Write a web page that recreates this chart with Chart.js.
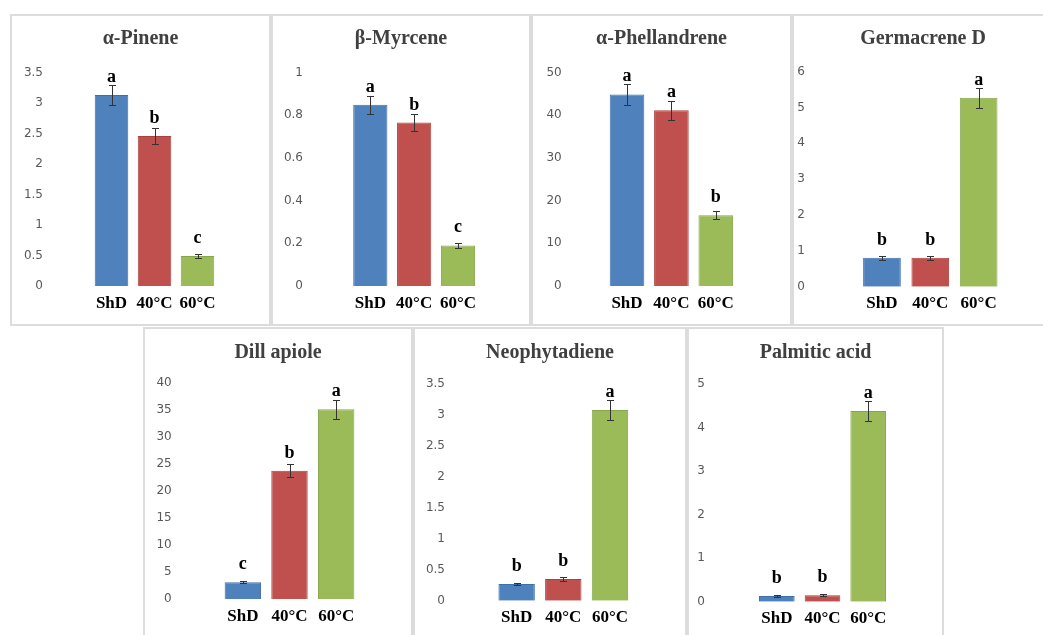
<!DOCTYPE html>
<html>
<head>
<meta charset="utf-8">
<script src="https://cdn.jsdelivr.net/npm/chart.js@4.4.1/dist/chart.umd.min.js"></script>
<style>
  html, body { margin: 0; padding: 0; background: #fff; }
  body { width: 1043px; height: 635px; position: relative; overflow: hidden; }
  .panel { position: absolute; box-sizing: border-box; border: 2px solid #dcdcdc; }
  canvas { position: absolute; }
</style>
</head>
<body>
<script>
// compounds and treatments
const compounds = ['α-Pinene', 'β-Myrcene', 'α-Phellandrene', 'Germacrene D', 'Dill apiole', 'Neophytadiene', 'Palmitic acid']
const treatments = ['ShD', '40°C', '60°C']

// means per treatment, one entry per compound
const shdMeans = [3.13, 0.85, 44.9, 0.81, 3.15, 0.27, 0.13]
const means40 = [2.46, 0.766, 41.2, 0.81, 23.8, 0.35, 0.15]
const means60 = [0.49, 0.19, 16.6, 5.27, 35.2, 3.085, 4.38]

// error bars
const shdErr = [0.16, 0.043, 2.4, 0.06, 0.15, 0.02, 0.02]
const err40 = [0.13, 0.04, 2.2, 0.06, 1.2, 0.03, 0.02]
const err60 = [0.03, 0.01, 0.9, 0.28, 1.8, 0.16, 0.23]

// significance letters
const shdLetters = ['a', 'a', 'a', 'b', 'c', 'b', 'b']
const letters40 = ['b', 'b', 'a', 'b', 'b', 'b', 'b']
const letters60 = ['c', 'c', 'b', 'a', 'a', 'a', 'a']

// y axis range
const yMax = [3.5, 1, 50, 6, 40, 3.5, 5]
const yStep = [0.5, 0.2, 10, 1, 5, 0.5, 1]

const barColors = ['#4f81bd', '#c0504d', '#9bbb59']
const barEdges = ['#3f6fa8', '#a8403d', '#86a54a']

// page layout: box [left, top, w, h], plot [left, right, top, bottom], tick label right edge, title centre y
const panels = [
  { box: [10, 14, 261, 312], plot: [90, 219, 72.5, 286], tickRight: 43, titleY: 39 },
  { box: [271, 14, 260, 312], plot: [348.4, 479.9, 72.7, 286], tickRight: 303, titleY: 39 },
  { box: [531, 14, 261, 312], plot: [604.8, 738, 72.7, 286], tickRight: 561.7, titleY: 39 },
  { box: [792, 14, 262, 312], plot: [857.8, 1002.8, 71.7, 286.7], tickRight: 805, titleY: 39 },
  { box: [143, 327, 270, 312], plot: [219.5, 359.5, 383.3, 599.3], tickRight: 171.7, titleY: 353 },
  { box: [413, 327, 274, 312], plot: [493.3, 633.3, 384.3, 600.7], tickRight: 445, titleY: 353 },
  { box: [687, 327, 257, 312], plot: [754, 891, 384, 601.7], tickRight: 705, titleY: 353 },
]

const errorBars = {
  id: 'errorBars',
  afterDatasetsDraw(chart, args, opts) {
    const { ctx } = chart
    const y = chart.scales.y
    const meta = chart.getDatasetMeta(0)
    ctx.save()
    meta.data.forEach((bar, j) => {
      const v = opts.means[j]
      const e = opts.errors[j]
      const top = Math.round(y.getPixelForValue(v + e)) + 0.5
      const bot = Math.round(y.getPixelForValue(v - e)) + 0.5
      const x = Math.round(bar.x) + 0.5
      ctx.strokeStyle = '#333'
      ctx.lineWidth = 1
      ctx.beginPath()
      ctx.moveTo(x, top); ctx.lineTo(x, bot)
      ctx.moveTo(x - 3.5, top); ctx.lineTo(x + 3.5, top)
      ctx.moveTo(x - 3.5, bot); ctx.lineTo(x + 3.5, bot)
      ctx.stroke()
      ctx.font = 'bold 18px "Liberation Serif"'
      ctx.textAlign = 'center'
      ctx.textBaseline = 'alphabetic'
      ctx.fillStyle = '#000'
      ctx.fillText(opts.letters[j], bar.x, Math.min(bar.y - 13, top - 3))
    })
    ctx.restore()
  },
}

compounds.forEach((name, i) => {
  const p = panels[i]
  const [bl, bt, bw, bh] = p.box
  const [pl, pr, pt, pb] = p.plot

  const frame = document.createElement('div')
  frame.className = 'panel'
  Object.assign(frame.style, { left: bl + 'px', top: bt + 'px', width: bw + 'px', height: bh + 'px' })
  document.body.appendChild(frame)

  const canvas = document.createElement('canvas')
  canvas.width = bw
  canvas.height = bh
  Object.assign(canvas.style, { left: bl + 'px', top: bt + 'px', width: bw + 'px', height: bh + 'px' })
  document.body.appendChild(canvas)

  const titleLh = 24
  const titleCentre = p.titleY - bt
  const plotTop = pt - bt

  new Chart(canvas.getContext('2d'), {
    type: 'bar',
    data: {
      labels: treatments,
      datasets: [{
        data: [shdMeans[i], means40[i], means60[i]],
        backgroundColor: barColors,
        borderColor: barEdges,
        borderWidth: 1,
        categoryPercentage: 1,
        barPercentage: 0.78,
      }],
    },
    options: {
      responsive: false,
      animation: false,
      events: [],
      layout: { padding: 0 },
      scales: {
        x: {
          grid: { display: false, drawTicks: false },
          border: { display: false },
          ticks: { color: '#000', padding: 7, font: { family: 'Liberation Serif', weight: 'bold', size: 17 } },
          afterFit: (a) => { a.height = bh - (pb - bt) },
        },
        y: {
          min: 0,
          max: yMax[i],
          grid: { display: false, drawTicks: false },
          border: { display: false },
          ticks: {
            stepSize: yStep[i],
            color: '#595959',
            padding: pl - p.tickRight,
            font: { family: 'DejaVu Sans', size: 12 },
            callback: (v) => String(Number(v.toFixed(3))),
          },
          afterFit: (a) => {
            a.width = pl - bl
            // the wide label gap should not push the plot area down
            a.paddingTop = 8
            a.paddingBottom = 8
          },
        },
        yR: {
          position: 'right',
          grid: { display: false, drawTicks: false },
          border: { display: false },
          ticks: { display: false },
          afterFit: (a) => { a.width = bl + bw - pr },
        },
      },
      plugins: {
        legend: { display: false },
        tooltip: { enabled: false },
        title: {
          display: true,
          text: name,
          color: '#404040',
          font: { family: 'Liberation Serif', weight: 'bold', size: 20, lineHeight: titleLh / 20 },
          padding: { top: titleCentre - titleLh / 2, bottom: plotTop - titleCentre - titleLh / 2 },
        },
        errorBars: {
          means: [shdMeans[i], means40[i], means60[i]],
          errors: [shdErr[i], err40[i], err60[i]],
          letters: [shdLetters[i], letters40[i], letters60[i]],
        },
      },
    },
    plugins: [errorBars],
  })
})
</script>
</body>
</html>
